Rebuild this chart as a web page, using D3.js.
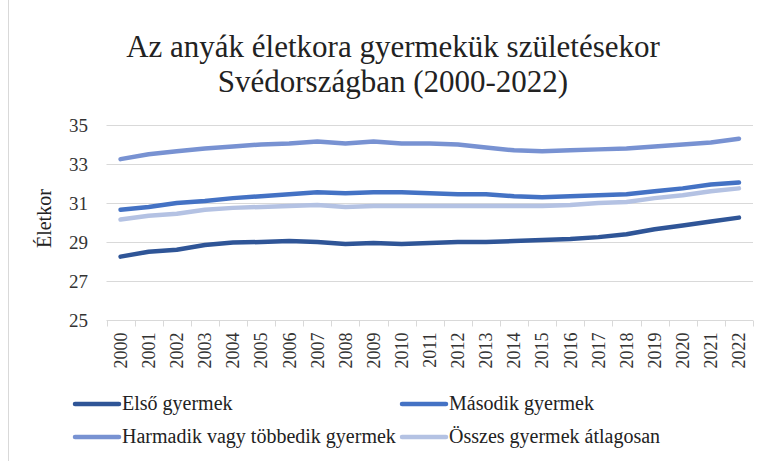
<!DOCTYPE html>
<html>
<head>
<meta charset="utf-8">
<script src="https://cdn.jsdelivr.net/npm/d3@7"></script>
<style>
  body { margin: 0; background: #fff; }
  svg { display: block; font-family: "Liberation Serif", "Times New Roman", serif; }
</style>
</head>
<body>
<div id="chart"></div>
<script>
// chart size
var width = 768,
    height = 461;
var margin = {top: 125, right: 15, bottom: 141, left: 106.5};

// data
var years = ["2000","2001","2002","2003","2004","2005","2006","2007","2008","2009","2010",
             "2011","2012","2013","2014","2015","2016","2017","2018","2019","2020","2021","2022"];
var elso = [28.25, 28.5, 28.6, 28.85, 28.97, 29.0, 29.05, 29.0, 28.9, 28.95, 28.9, 28.95,
            29.0, 29.0, 29.05, 29.1, 29.15, 29.25, 29.4, 29.65, 29.85, 30.05, 30.25];
var masodik = [30.65, 30.8, 31.0, 31.1, 31.25, 31.35, 31.45, 31.55, 31.5, 31.55, 31.55, 31.5,
               31.45, 31.45, 31.35, 31.3, 31.35, 31.4, 31.45, 31.6, 31.75, 31.95, 32.05];
var harmadik = [33.25, 33.5, 33.65, 33.8, 33.9, 34.0, 34.05, 34.15, 34.05, 34.15, 34.05, 34.05,
                34.0, 33.85, 33.7, 33.65, 33.7, 33.75, 33.8, 33.9, 34.0, 34.1, 34.3];
var osszes = [30.15, 30.35, 30.45, 30.65, 30.75, 30.8, 30.85, 30.9, 30.8, 30.85, 30.85, 30.85,
              30.85, 30.85, 30.85, 30.85, 30.9, 31.0, 31.05, 31.25, 31.4, 31.6, 31.75];
var yTicks = [25, 27, 29, 31, 33, 35];
var seriesNames = ["Első gyermek", "Második gyermek", "Harmadik vagy többedik gyermek", "Összes gyermek átlagosan"];
var seriesColors = ["#2F5597", "#4472C4", "#7892D2", "#B4C2E3"];

var series = [elso, masodik, harmadik, osszes].map(function(vals, i) {
  return {name: seriesNames[i], color: seriesColors[i], values: vals};
});

var svg = d3.select("#chart")
  .append("svg")
    .attr("width", width)
    .attr("height", height);

// left border of the chart box
svg.append("line")
  .attr("x1", 8.5).attr("x2", 8.5)
  .attr("y1", 0).attr("y2", height)
  .attr("stroke", "#D9D9D9");

// title
var title = svg.append("text")
  .attr("text-anchor", "middle")
  .attr("fill", "#222")
  .style("font-size", "31px");
title.append("tspan").attr("x", 393).attr("y", 57).text("Az anyák életkora gyermekük születésekor");
title.append("tspan").attr("x", 393).attr("y", 92).text("Svédországban (2000-2022)");

var x = d3.scaleBand()
  .domain(years)
  .range([margin.left, width - margin.right]);

var y = d3.scaleLinear()
  .domain([25, 35])
  .range([height - margin.bottom, margin.top]);

// gridlines
svg.append("g")
  .selectAll("line")
  .data(yTicks.slice(1))
  .enter()
  .append("line")
    .attr("x1", margin.left)
    .attr("x2", width - margin.right)
    .attr("y1", function(d) { return Math.round(y(d)) + 0.5; })
    .attr("y2", function(d) { return Math.round(y(d)) + 0.5; })
    .attr("stroke", "#D9D9D9")
    .attr("stroke-width", 1);

// y axis labels
svg.append("g")
  .selectAll("text")
  .data(yTicks)
  .enter()
  .append("text")
    .attr("x", 88)
    .attr("y", function(d) { return y(d); })
    .attr("dy", "0.35em")
    .attr("text-anchor", "end")
    .attr("fill", "#333")
    .style("font-size", "19px")
    .text(function(d) { return d; });

// y axis title
svg.append("text")
  .attr("transform", "translate(51," + y(30.2) + ") rotate(-90)")
  .attr("text-anchor", "middle")
  .attr("fill", "#222")
  .style("font-size", "20px")
  .text("Életkor");

// x axis
var xAxis = svg.append("g")
  .attr("transform", "translate(0," + (Math.round(y(25)) + 0.5) + ")");
xAxis.append("line")
  .attr("x1", margin.left).attr("x2", width - margin.right)
  .attr("stroke", "#D9D9D9");
xAxis.selectAll(".tk")
  .data(years.concat(["end"]))
  .enter()
  .append("line")
    .attr("x1", function(d) { return Math.round(d === "end" ? x.range()[1] : x(d)) + 0.5; })
    .attr("x2", function(d) { return Math.round(d === "end" ? x.range()[1] : x(d)) + 0.5; })
    .attr("y1", 0).attr("y2", 6)
    .attr("stroke", "#D9D9D9");
xAxis.selectAll("text")
  .data(years)
  .enter()
  .append("text")
    .attr("transform", function(d) {
      return "translate(" + (x(d) + x.bandwidth() / 2) + ",12) rotate(-90)";
    })
    .attr("text-anchor", "end")
    .attr("dy", "0.35em")
    .attr("fill", "#333")
    .style("font-size", "18px")
    .text(function(d) { return d; });

// lines
var line = d3.line()
  .x(function(d, i) { return x(years[i]) + x.bandwidth() / 2; })
  .y(function(d) { return y(d); });

svg.append("g")
  .selectAll("path")
  .data(series.slice().reverse())
  .enter()
  .append("path")
    .attr("d", function(d) { return line(d.values); })
    .attr("fill", "none")
    .attr("stroke", function(d) { return d.color; })
    .attr("stroke-width", 4.5)
    .attr("stroke-linecap", "round")
    .attr("stroke-linejoin", "round");

// legend
var legendPos = [[73, 404], [400, 404], [73, 437], [400, 437]];
var legend = svg.append("g")
  .selectAll("g")
  .data(series)
  .enter()
  .append("g")
    .attr("transform", function(d, i) { return "translate(" + legendPos[i][0] + "," + legendPos[i][1] + ")"; });
legend.append("line")
  .attr("x1", 2).attr("x2", 46)
  .attr("stroke", function(d) { return d.color; })
  .attr("stroke-width", 4.5)
  .attr("stroke-linecap", "round");
legend.append("text")
  .attr("x", 49)
  .attr("dy", "0.32em")
  .attr("fill", "#222")
  .style("font-size", "20px")
  .text(function(d) { return d.name; });
</script>
</body>
</html>
